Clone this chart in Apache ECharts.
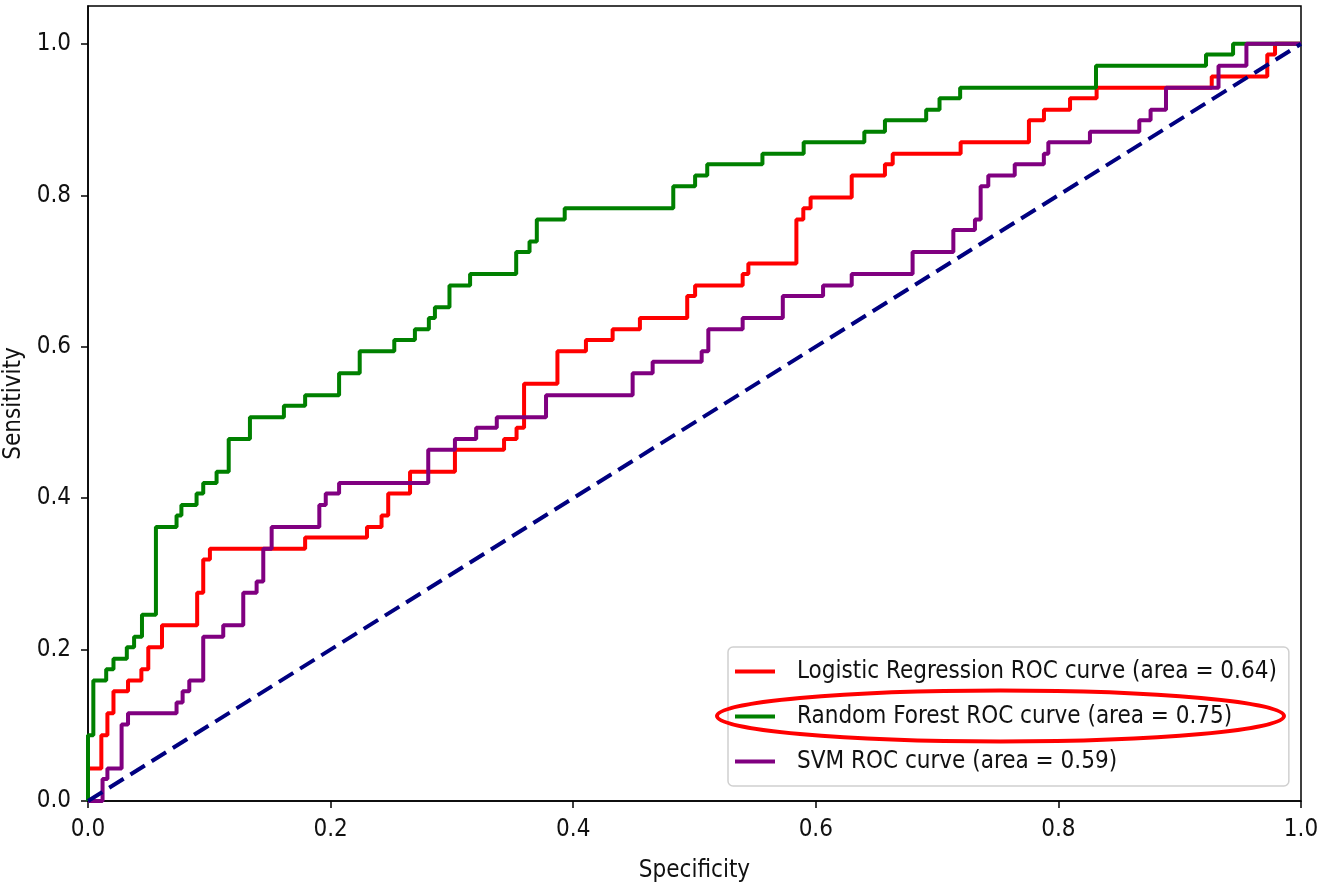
<!DOCTYPE html>
<html>
<head>
<meta charset="utf-8">
<script src="https://cdn.jsdelivr.net/npm/echarts@6/dist/echarts.min.js"></script>
<style>
  html, body { margin: 0; padding: 0; background: #fff; }
  #chart { width: 1319px; height: 891px; }
</style>
</head>
<body>
<div id="chart"></div>
<script>
// ROC curves: each point is [false positive rate, true positive rate] at a step corner
const modelNames = [
  'Logistic Regression ROC curve (area = 0.64)',
  'Random Forest ROC curve (area = 0.75)',
  'SVM ROC curve (area = 0.59)'
];
const lrRoc = [
  [0, 0], [0, 0.043], [0.011, 0.087], [0.016, 0.116], [0.021, 0.145], [0.033, 0.159],
  [0.044, 0.174], [0.0497, 0.203], [0.061, 0.232], [0.090, 0.275], [0.095, 0.319],
  [0.1005, 0.333], [0.179, 0.348], [0.230, 0.362], [0.242, 0.377], [0.2475, 0.406],
  [0.2655, 0.435], [0.3025, 0.464], [0.343, 0.478], [0.3533, 0.493], [0.3595, 0.551],
  [0.387, 0.594], [0.4105, 0.609], [0.4325, 0.623], [0.455, 0.638], [0.494, 0.667],
  [0.5005, 0.681], [0.5397, 0.696], [0.5444, 0.710], [0.584, 0.768], [0.5897, 0.783],
  [0.5957, 0.797], [0.6296, 0.826], [0.657, 0.841], [0.6634, 0.855], [0.7194, 0.870],
  [0.7757, 0.899], [0.7881, 0.913], [0.8096, 0.928], [0.8315, 0.942], [0.9264, 0.957],
  [0.9722, 0.986], [0.9786, 1.0], [1, 1]
];
const rfRoc = [
  [0, 0], [0, 0.087], [0.0044, 0.159], [0.015, 0.174], [0.021, 0.188], [0.032, 0.203],
  [0.038, 0.217], [0.0445, 0.246], [0.056, 0.362], [0.073, 0.377], [0.077, 0.391],
  [0.0895, 0.406], [0.095, 0.420], [0.106, 0.435], [0.116, 0.478], [0.1335, 0.507],
  [0.1615, 0.522], [0.179, 0.536], [0.207, 0.565], [0.224, 0.594], [0.2525, 0.609],
  [0.2695, 0.623], [0.281, 0.638], [0.286, 0.652], [0.298, 0.681], [0.315, 0.696],
  [0.353, 0.725], [0.364, 0.739], [0.370, 0.768], [0.393, 0.783], [0.4825, 0.812],
  [0.5005, 0.826], [0.5105, 0.841], [0.556, 0.855], [0.590, 0.870], [0.640, 0.884],
  [0.657, 0.899], [0.691, 0.913], [0.702, 0.928], [0.719, 0.942], [0.831, 0.971],
  [0.9217, 0.986], [0.944, 1.0], [1, 1]
];
const svmRoc = [
  [0, 0], [0.012, 0.029], [0.016, 0.043], [0.0277, 0.101], [0.033, 0.116], [0.073, 0.130],
  [0.078, 0.145], [0.0835, 0.159], [0.095, 0.217], [0.1115, 0.232], [0.128, 0.275],
  [0.139, 0.290], [0.1445, 0.333], [0.1514, 0.362], [0.1907, 0.391], [0.196, 0.406],
  [0.207, 0.420], [0.2805, 0.464], [0.3025, 0.478], [0.320, 0.493], [0.337, 0.507],
  [0.3776, 0.536], [0.449, 0.565], [0.4655, 0.580], [0.5059, 0.594], [0.5114, 0.623],
  [0.5397, 0.638], [0.5728, 0.667], [0.606, 0.681], [0.6296, 0.696], [0.6798, 0.725],
  [0.7134, 0.754], [0.7312, 0.768], [0.7359, 0.812], [0.7422, 0.826], [0.764, 0.841],
  [0.788, 0.855], [0.7917, 0.870], [0.826, 0.884], [0.8667, 0.899], [0.876, 0.913],
  [0.8887, 0.942], [0.932, 0.971], [0.955, 1.0], [1, 1]
];
// chance line
const chanceLine = [[0, 0], [1, 1]];
const tickValues = [0, 0.2, 0.4, 0.6, 0.8, 1.0];
const modelColors = ['#ff0000', '#008000', '#800080'];

const FONT = '"DejaVu Sans Condensed", "Liberation Sans Narrow", "DejaVu Sans", sans-serif';

const chart = echarts.init(document.getElementById('chart'), null, { renderer: 'canvas' });

function rocSeries(name, data, color) {
  return {
    name: name,
    type: 'line',
    data: data,
    step: 'end',
    color: color,
    showSymbol: false,
    symbol: 'none',
    lineStyle: { color: color, width: 4 },
    animation: false
  };
}

chart.setOption({
  animation: false,
  backgroundColor: '#fff',
  textStyle: { fontFamily: FONT },
  grid: {
    left: 88, right: 18, top: 6, bottom: 90,
    containLabel: false,
    outerBoundsMode: 'none',
    show: true, borderColor: '#000', borderWidth: 1.5, backgroundColor: 'transparent'
  },
  xAxis: {
    type: 'value',
    min: 0, max: 1, interval: 0.2,
    name: 'Specificity',
    nameLocation: 'middle',
    nameGap: 58,
    nameTextStyle: { fontSize: 24, color: '#111', fontFamily: FONT },
    axisLine: { show: true, lineStyle: { color: '#000', width: 1.5 } },
    axisTick: { show: true, length: 7, lineStyle: { color: '#000', width: 1.5 } },
    axisLabel: {
      margin: 17, fontSize: 24, color: '#111', fontFamily: FONT,
      formatter: v => v.toFixed(1)
    },
    splitLine: { show: false }
  },
  yAxis: {
    type: 'value',
    min: 0, max: 1.05,
    name: 'Sensitivity',
    nameLocation: 'middle',
    nameGap: 62,
    nameTextStyle: { fontSize: 24, color: '#111', fontFamily: FONT },
    axisLine: { show: true, lineStyle: { color: '#000', width: 1.5 } },
    axisTick: { show: true, length: 7, customValues: tickValues, lineStyle: { color: '#000', width: 1.5 } },
    axisLabel: {
      margin: 17, fontSize: 24, color: '#111', fontFamily: FONT,
      customValues: tickValues,
      formatter: v => v.toFixed(1)
    },
    splitLine: { show: false }
  },
  legend: {
    data: modelNames,
    orient: 'vertical',
    left: 728, top: 647,
    padding: [11, 12, 11, 7],
    itemGap: 18,
    itemWidth: 40, itemHeight: 4,
    icon: 'rect',
    backgroundColor: 'rgba(255,255,255,0.85)',
    borderColor: '#d0d0d0', borderWidth: 1.5, borderRadius: 5,
    selectedMode: false,
    textStyle: {
      fontSize: 24, lineHeight: 27, color: '#111', fontFamily: FONT,
      padding: [0, 0, 0, 17]
    }
  },
  series: [
    rocSeries(modelNames[0], lrRoc, modelColors[0]),
    rocSeries(modelNames[1], rfRoc, modelColors[1]),
    rocSeries(modelNames[2], svmRoc, modelColors[2]),
    {
      name: 'chance',
      type: 'line',
      data: chanceLine,
      showSymbol: false,
      symbol: 'none',
      color: '#000080',
      lineStyle: { color: '#000080', width: 4, type: [17, 8] },
      animation: false
    }
  ],
  graphic: [
    {
      // highlight ring around the Random Forest legend entry
      type: 'ellipse',
      shape: { cx: 1000.5, cy: 716, rx: 283.5, ry: 25.5 },
      style: { fill: null, stroke: '#ff0000', lineWidth: 4 },
      z: 100
    }
  ]
});
</script>
</body>
</html>
